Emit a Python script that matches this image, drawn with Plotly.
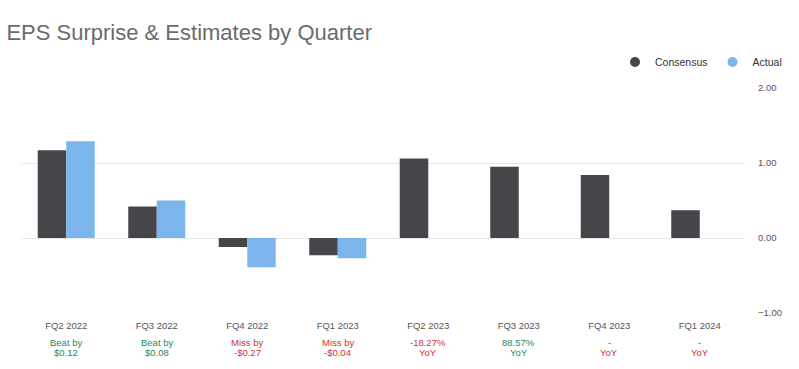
import plotly.graph_objects as go

quarters = ["FQ2 2022", "FQ3 2022", "FQ4 2022", "FQ1 2023", "FQ2 2023", "FQ3 2023", "FQ4 2023", "FQ1 2024"]
consensus = [1.17, 0.42, -0.12, -0.23, 1.06, 0.95, 0.84, 0.37]
actual = [1.29, 0.50, -0.39, -0.27, None, None, None, None]
note_line1 = ["Beat by", "Beat by", "Miss by", "Miss by", "-18.27%", "88.57%", "-", "-"]
note_line2 = ["$0.12", "$0.08", "-$0.27", "-$0.04", "YoY", "YoY", "YoY", "YoY"]
line1_colors = ["green", "green", "red", "red", "red", "green", "red", "red"]
line2_colors = ["green", "green", "red", "red", "red", "green", "red", "red"]
y_ticks = [-1, 0, 1, 2]

GREEN = "#1f8a55"
RED = "#d2322d"
C_CONS = "#46454a"
C_ACT = "#7cb5ec"
FONT = "Liberation Sans, Arial, sans-serif"

fig = go.Figure()
fig.add_trace(go.Bar(x=quarters, y=consensus, name="Consensus", marker=dict(color=C_CONS, line=dict(width=0)), showlegend=False))
fig.add_trace(go.Bar(x=quarters, y=actual, name="Actual", marker=dict(color=C_ACT, line=dict(width=0)), showlegend=False))
fig.add_trace(go.Scatter(x=[None], y=[None], mode="markers", name="Consensus", marker=dict(color=C_CONS, size=10, symbol="circle")))
fig.add_trace(go.Scatter(x=[None], y=[None], mode="markers", name="Actual", marker=dict(color=C_ACT, size=10, symbol="circle")))

for q, l1, l2, c1, c2 in zip(quarters, note_line1, note_line2, line1_colors, line2_colors):
    fig.add_annotation(x=q, y=0, xref="x", yref="paper", text=l1, showarrow=False,
                       yanchor="middle", yshift=-29, font=dict(size=9.5, color=GREEN if c1 == "green" else RED, family=FONT))
    fig.add_annotation(x=q, y=0, xref="x", yref="paper", text=l2, showarrow=False,
                       yanchor="middle", yshift=-39, font=dict(size=9.5, color=GREEN if c2 == "green" else RED, family=FONT))

fig.update_layout(
    width=799, height=369,
    margin=dict(l=21, r=54, t=88, b=56, autoexpand=False),
    paper_bgcolor="white", plot_bgcolor="white",
    font=dict(family=FONT, color="#555555"),
    title=dict(text="EPS Surprise & Estimates by Quarter", x=0.008, xanchor="left", y=1 - 32 / 369, yanchor="middle",
               font=dict(size=22, color="#6b6b6b", family=FONT)),
    barmode="group", bargap=0.37, bargroupgap=0,
    legend=dict(orientation="h", xref="container", yref="container", x=0.985, xanchor="right",
                y=1 - 62 / 369, yanchor="middle", font=dict(size=10.5, color="#333333", family=FONT),
                itemwidth=30, tracegroupgap=0),
    xaxis=dict(showgrid=False, showline=False, zeroline=False, ticks="", tickfont=dict(size=9.5, color="#555555"),
               ticklabelstandoff=5),
    yaxis=dict(side="right", range=[-1, 2], tickvals=y_ticks, tickformat=".2f", showgrid=True, gridcolor="#e6e6e6",
               gridwidth=1, zeroline=True, zerolinecolor="#e6e6e6", zerolinewidth=1, showline=False,
               tickfont=dict(size=9.5, color="#555555"), ticklabelstandoff=12),
)

fig.write_html("out.html", config={"displayModeBar": False}, post_script="document.body.style.margin='0';")
